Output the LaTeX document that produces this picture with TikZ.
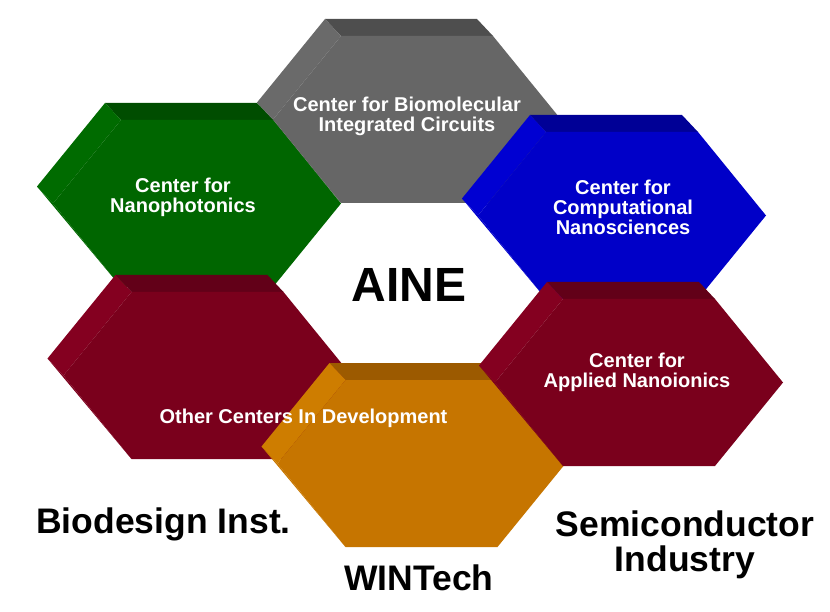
\documentclass[tikz,border=0pt]{standalone}
\usepackage{fontspec}
\setmainfont{Liberation Sans}
\usetikzlibrary{positioning}
% face (F), top bevel (T), upper-left bevel (L), lower-left bevel (S)
\definecolor{hxgrayF}{RGB}{102,102,102}
\definecolor{hxgrayT}{RGB}{78,78,78}
\definecolor{hxgrayL}{RGB}{106,106,106}
\definecolor{hxgrayS}{RGB}{104,104,104}
\definecolor{hxgreenF}{RGB}{0,102,0}
\definecolor{hxgreenT}{RGB}{0,77,0}
\definecolor{hxgreenL}{RGB}{0,107,0}
\definecolor{hxgreenS}{RGB}{0,104,0}
\definecolor{hxblueF}{RGB}{0,0,200}
\definecolor{hxblueT}{RGB}{0,0,150}
\definecolor{hxblueL}{RGB}{0,0,210}
\definecolor{hxblueS}{RGB}{0,0,204}
\definecolor{hxredF}{RGB}{122,0,28}
\definecolor{hxredT}{RGB}{98,0,24}
\definecolor{hxredL}{RGB}{132,0,32}
\definecolor{hxredS}{RGB}{126,0,30}
\definecolor{hxorangeF}{RGB}{198,117,0}
\definecolor{hxorangeT}{RGB}{156,90,0}
\definecolor{hxorangeL}{RGB}{206,125,0}
\definecolor{hxorangeS}{RGB}{201,120,0}

\begin{document}
\begin{tikzpicture}[x=1pt,y=-1pt,
  centerlabel/.style={text=white, font=\fontsize{20}{20}\selectfont\bfseries, align=center, inner sep=0pt},
  partnerlabel/.style={text=black, font=\fontsize{35.5}{35}\selectfont\bfseries, align=center, inner sep=0pt}]
\useasboundingbox (0,0) rectangle (830,612);
% Hexagon blocks (front face centre / colour), back face offset by (-16,-17)
\foreach \cx/\cy/\hx in {417/119.5/hxgray, 197/203.5/hxgreen, 622/215.5/hxblue,
                         207.5/375.5/hxred, 421.5/463.5/hxorange, 639/382.5/hxred} {
  \fill[fill=\hx S] ({\cx-160},{\cy-17}) -- ({\cx-144},\cy) -- ({\cx-76},{\cy+83.5}) -- cycle;
  \fill[fill=\hx T] ({\cx-92},{\cy-100.5}) -- ({\cx+60},{\cy-100.5}) -- ({\cx+76},{\cy-83.5}) -- ({\cx-76},{\cy-83.5}) -- cycle;
  \fill[fill=\hx L] ({\cx-160},{\cy-17}) -- ({\cx-92},{\cy-100.5}) -- ({\cx-76},{\cy-83.5}) -- ({\cx-144},\cy) -- cycle;
  \fill[fill=\hx F] ({\cx-144},\cy) -- ({\cx-76},{\cy-83.5}) -- ({\cx+76},{\cy-83.5}) -- ({\cx+144},\cy)
    -- ({\cx+76},{\cy+83.5}) -- ({\cx-76},{\cy+83.5}) -- cycle;
}
% Centre names
\node[centerlabel] (bmic) at (407,116) {Center for Biomolecular\\Integrated Circuits};
\node[centerlabel] (nanophot) at (183,197.5) {Center for\\Nanophotonics};
\node[centerlabel] (compnano) at (623,207) {Center for\\Computational\\Nanosciences};
\node[centerlabel] (nanoion) at (637,372) {Center for\\Applied Nanoionics};
\node[centerlabel, anchor=base] (othercent) at (303.5,423) {Other Centers In Development};
% Institute and partners
\node[font=\fontsize{48}{48}\selectfont\bfseries, inner sep=0pt, anchor=base] (aine) at (409,302) {AINE};
\node[partnerlabel, anchor=base] (biodesign) at (163.5,533) {Biodesign Inst.};
\node[partnerlabel] (semicon) at (685,545) {Semiconductor\\Industry};
\node[partnerlabel, anchor=base] (wintech) at (419,590) {WINTech};
\end{tikzpicture}
\end{document}
